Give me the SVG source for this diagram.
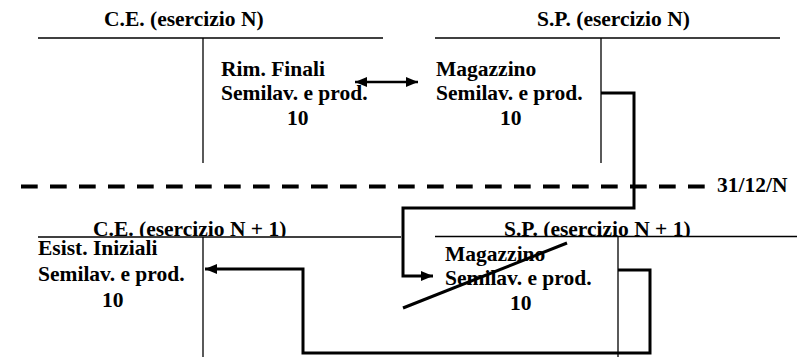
<svg xmlns="http://www.w3.org/2000/svg" width="798" height="357" viewBox="0 0 798 357">
<style>
text{font-family:"Liberation Serif","DejaVu Serif",serif;font-weight:700;font-size:21.5px;fill:#000}
.rule{stroke:#000;stroke-width:1.3;fill:none}
.conn{stroke:#000;stroke-width:3;fill:none}
.dash{stroke:#000;stroke-width:4;stroke-dasharray:16.7 12.3;fill:none}
</style>
<defs>
<marker id="ah" viewBox="0 0 12 10" refX="12" refY="5" markerWidth="12" markerHeight="10" markerUnits="userSpaceOnUse" orient="auto-start-reverse">
<path d="M0,0 L12,5 L0,10 z" fill="#000"/>
</marker>
<clipPath id="clipHead"><rect x="0" y="200" width="798" height="36.5"/></clipPath>
</defs>

<g id="ce-n">
<text x="104" y="26">C.E. (esercizio N)</text>
<line class="rule" x1="38" y1="38" x2="383" y2="38"/>
<line class="rule" x1="203" y1="38" x2="203" y2="163"/>
<text x="221" y="76">Rim. Finali</text>
<text x="221" y="100">Semilav. e prod.</text>
<text x="287" y="125">10</text>
</g>

<g id="sp-n">
<text x="537" y="26">S.P. (esercizio N)</text>
<line class="rule" x1="435" y1="38" x2="780" y2="38"/>
<line class="rule" x1="601" y1="38" x2="601" y2="163"/>
<text x="436" y="76">Magazzino</text>
<text x="436" y="100">Semilav. e prod.</text>
<text x="500" y="125">10</text>
</g>

<g id="divider">
<line class="dash" x1="21" y1="186.5" x2="705" y2="186.5"/>
<text x="717" y="192">31/12/N</text>
</g>

<g id="ce-n1">
<text x="93" y="236" clip-path="url(#clipHead)">C.E. (esercizio N + 1)</text>
<line class="rule" x1="38" y1="237" x2="401" y2="237"/>
<line class="rule" x1="203" y1="237" x2="203" y2="357"/>
<text x="38" y="255">Esist. Iniziali</text>
<text x="38" y="281">Semilav. e prod.</text>
<text x="102" y="307">10</text>
</g>

<g id="sp-n1">
<text x="504" y="236" clip-path="url(#clipHead)">S.P. (esercizio N + 1)</text>
<line class="rule" x1="435" y1="236.5" x2="797" y2="236.5"/>
<line class="rule" x1="618" y1="236.5" x2="618" y2="357"/>
<text x="445" y="261">Magazzino</text>
<text x="445" y="285">Semilav. e prod.</text>
<text x="510" y="310">10</text>
<line stroke="#000" stroke-width="3" x1="403" y1="308" x2="567" y2="243"/>
</g>

<g id="connectors">
<path d="M355,82 H418" stroke="#000" stroke-width="2.5" fill="none" marker-start="url(#ah)" marker-end="url(#ah)"/>
<path class="conn" d="M601,93 H634 V208 H403 V276 H433" marker-end="url(#ah)"/>
<path class="conn" d="M618,270 H650 V353 H303 V269 H205" marker-end="url(#ah)"/>
</g>
</svg>
